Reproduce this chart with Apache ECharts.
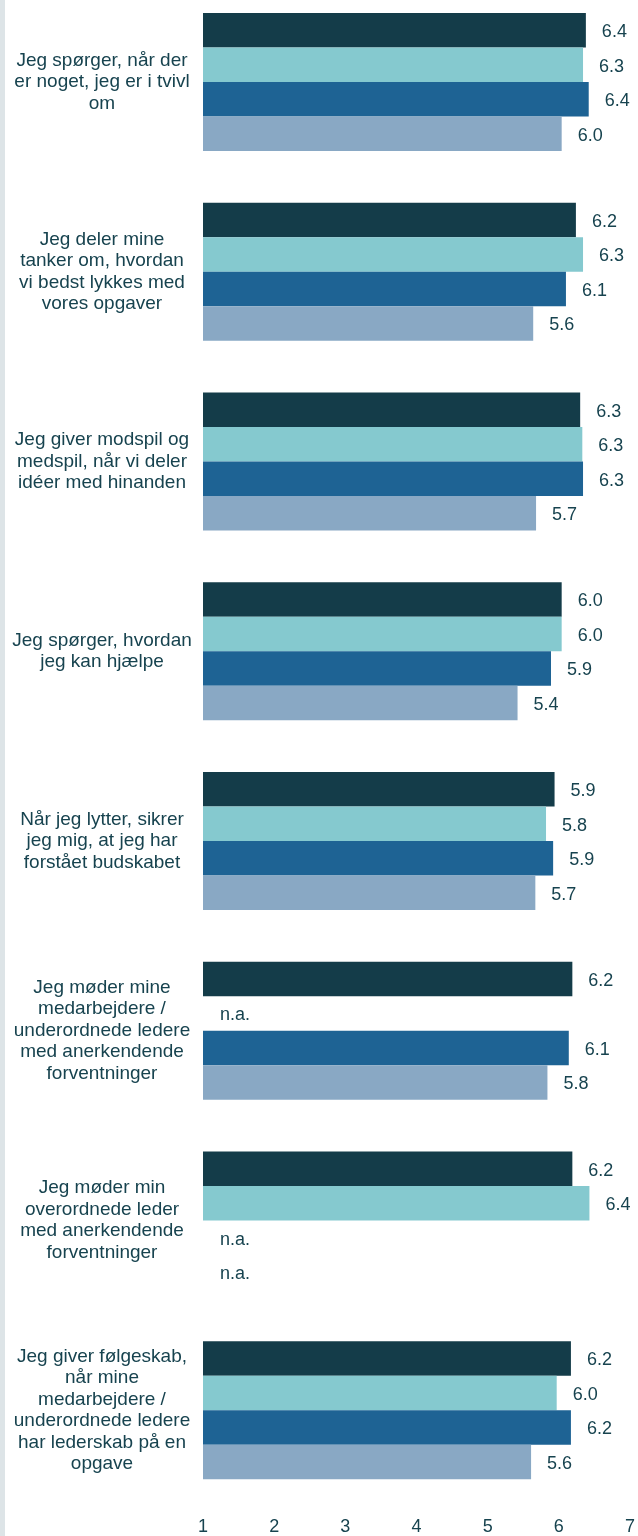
<!DOCTYPE html>
<html>
<head>
<meta charset="utf-8">
<script src="https://cdn.jsdelivr.net/npm/echarts@6/dist/echarts.min.js"></script>
<style>
  html, body { margin: 0; padding: 0; background: #ffffff; overflow: hidden; width: 638px; height: 1536px; }
  #chart { position: absolute; left: 0; top: -13px; width: 638px; height: 1549px; }
  #strip { position: absolute; left: 0; top: 0; width: 5px; height: 1536px; background: #dde4e7; }
</style>
</head>
<body>
<div id="chart"></div>
<div id="strip"></div>
<script>
const categories = [
  "Jeg spørger, når der\ner noget, jeg er i tvivl\nom",
  "Jeg deler mine\ntanker om, hvordan\nvi bedst lykkes med\nvores opgaver",
  "Jeg giver modspil og\nmedspil, når vi deler\nidéer med hinanden",
  "Jeg spørger, hvordan\njeg kan hjælpe",
  "Når jeg lytter, sikrer\njeg mig, at jeg har\nforstået budskabet",
  "Jeg møder mine\nmedarbejdere /\nunderordnede ledere\nmed anerkendende\nforventninger",
  "Jeg møder min\noverordnede leder\nmed anerkendende\nforventninger",
  "Jeg giver følgeskab,\nnår mine\nmedarbejdere /\nunderordnede ledere\nhar lederskab på en\nopgave"
];
const seriesA = [6.38, 6.24, 6.30, 6.04, 5.94, 6.19, 6.19, 6.17];
const seriesB = [6.34, 6.34, 6.33, 6.04, 5.82, null, 6.43, 5.97];
const seriesC = [6.42, 6.10, 6.34, 5.89, 5.92, 6.14, null, 6.17];
const seriesD = [6.04, 5.64, 5.68, 5.42, 5.67, 5.84, null, 5.61];
const axisTicks = [1, 2, 3, 4, 5, 6, 7];
const naText = "n.a.";

const colors = ["#143c49", "#85c9cf", "#1e6394", "#89a8c4"];
const textColor = "#17434f";
const fontFamily = "Liberation Sans";
const axisMin = axisTicks[0];
const axisMax = axisTicks[axisTicks.length - 1];

function buildData(arr) {
  return arr.map(v => {
    if (v === null) {
      return {
        value: axisMin,
        itemStyle: { color: 'rgba(0,0,0,0)' },
        label: { formatter: naText, distance: 17 }
      };
    }
    return { value: v };
  });
}

const allSeries = [seriesA, seriesB, seriesC, seriesD].map((arr, i) => ({
  type: 'bar',
  data: buildData(arr),
  barWidth: 34.5,
  barGap: '0%',
  itemStyle: { color: colors[i] },
  label: {
    show: true,
    position: 'right',
    distance: 16,
    offset: [0, 2],
    color: textColor,
    fontFamily: fontFamily,
    fontSize: 18,
    formatter: p => Number(p.value).toFixed(1)
  },
  emphasis: { disabled: true },
  animation: false
}));

const chart = echarts.init(document.getElementById('chart'), null, { renderer: 'canvas' });
chart.setOption({
  backgroundColor: '#ffffff',
  animation: false,
  grid: { left: 203, right: 5, top: 0, bottom: 31, containLabel: false },
  xAxis: {
    type: 'value',
    min: axisMin,
    max: axisMax,
    interval: 1,
    axisLine: { show: false },
    axisTick: { show: false },
    splitLine: { show: false },
    axisLabel: {
      color: textColor,
      fontFamily: fontFamily,
      fontSize: 18,
      margin: 13,
      formatter: v => String(v)
    }
  },
  yAxis: {
    type: 'category',
    inverse: true,
    data: categories,
    axisLine: { show: false },
    axisTick: { show: false },
    splitLine: { show: false },
    axisLabel: {
      color: textColor,
      fontFamily: fontFamily,
      fontSize: 19,
      lineHeight: 21.5,
      align: 'center',
      margin: 101
    }
  },
  series: allSeries
});
</script>
</body>
</html>
